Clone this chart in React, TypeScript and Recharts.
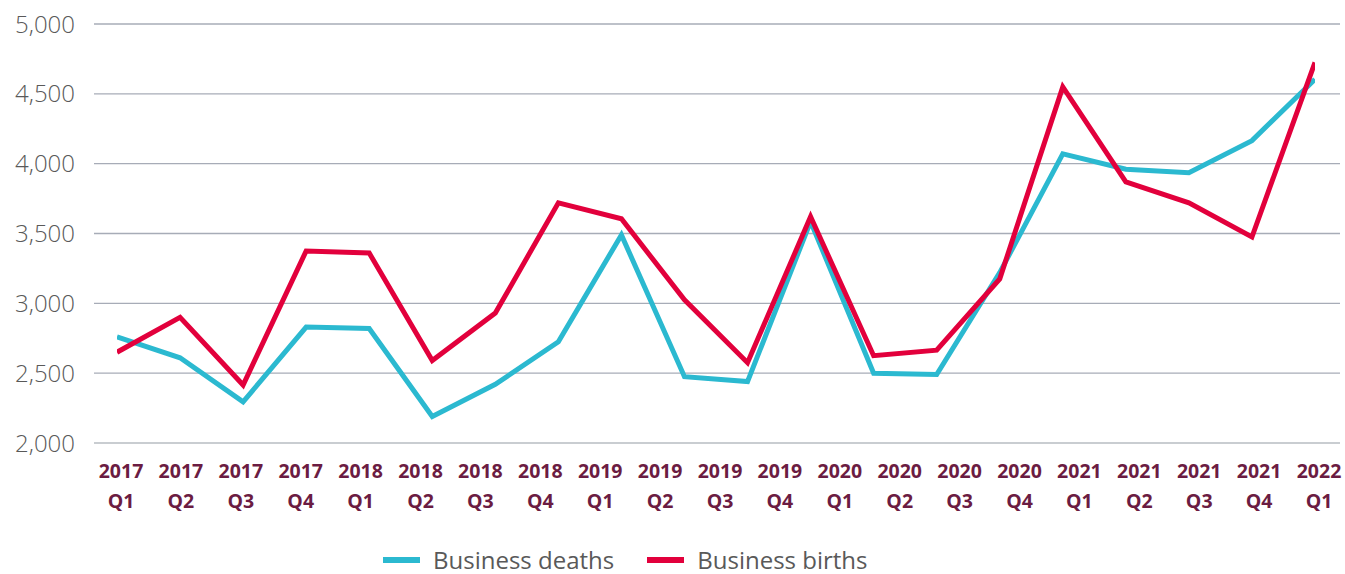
import { LineChart, Line, XAxis, YAxis, CartesianGrid, Legend } from "recharts";

const quarterLabels = [
  "2017 Q1", "2017 Q2", "2017 Q3", "2017 Q4",
  "2018 Q1", "2018 Q2", "2018 Q3", "2018 Q4",
  "2019 Q1", "2019 Q2", "2019 Q3", "2019 Q4",
  "2020 Q1", "2020 Q2", "2020 Q3", "2020 Q4",
  "2021 Q1", "2021 Q2", "2021 Q3", "2021 Q4",
  "2022 Q1",
];

// the source plots 20 points under 21 labels, so lines and labels sit on separate axes
const businessDeaths = [
  2760, 2610, 2295, 2830, 2820, 2190, 2420, 2725, 3490, 2475,
  2440, 3585, 2500, 2490, 3220, 4070, 3960, 3935, 4165, 4605,
];
const businessBirths = [
  2650, 2900, 2415, 3375, 3360, 2590, 2930, 3720, 3605, 3025,
  2575, 3620, 2625, 2665, 3175, 4550, 3870, 3720, 3475, 4725,
];

const yTicks = [2000, 2500, 3000, 3500, 4000, 4500, 5000];

const TEAL = "#2bb9d0";
const RED = "#e2003c";
const FONT = "'Open Sans', sans-serif";

const labelRows = quarterLabels.map((label) => ({ label }));
const deathRows = businessDeaths.map((v, i) => ({ idx: i, value: v }));
const birthRows = businessBirths.map((v, i) => ({ idx: i, value: v }));

function QuarterTick(props: any) {
  const { x, y, payload } = props;
  const [year, q] = String(payload.value).split(" ");
  return (
    <text
      x={x}
      y={y}
      textAnchor="middle"
      fill="#6b1c42"
      fontSize={19.5}
      fontWeight={700}
      fontFamily={FONT}
    >
      <tspan x={x} dy={27}>{year}</tspan>
      <tspan x={x} dy={30}>{q}</tspan>
    </text>
  );
}

function LegendContent() {
  const items = [
    { name: "Business deaths", color: TEAL },
    { name: "Business births", color: RED },
  ];
  return (
    <div
      style={{
        display: "flex",
        alignItems: "center",
        paddingLeft: 383,
        paddingTop: 14,
        fontFamily: FONT,
        fontSize: 24,
        lineHeight: "24px",
        whiteSpace: "nowrap",
        color: "#595959",
      }}
    >
      {items.map((it) => (
        <div key={it.name} style={{ display: "flex", alignItems: "center", marginRight: 33 }}>
          <svg width={37} height={6} style={{ marginRight: 13 }}>
            <rect width={37} height={6} fill={it.color} />
          </svg>
          <span>{it.name}</span>
        </div>
      ))}
    </div>
  );
}

export default function App() {
  return (
    <div style={{ position: "absolute", left: 0, top: 0, width: 1345, height: 574, background: "#fff" }}>
      <LineChart
        width={1345}
        height={574}
        data={labelRows}
        margin={{ top: 24, right: 5, bottom: 0, left: 0 }}
      >
        <CartesianGrid vertical={false} stroke="#a7acb7" strokeWidth={1.3} xAxisId="labels" />
        <XAxis
          xAxisId="line"
          dataKey="idx"
          type="number"
          domain={[0, 19]}
          allowDataOverflow
          padding={{ left: 23, right: 25 }}
          hide
        />
        <XAxis
          xAxisId="labels"
          dataKey="label"
          type="category"
          interval={0}
          padding={{ left: 27, right: 21 }}
          height={91}
          axisLine={{ stroke: "#c9cdd1", strokeWidth: 2 }}
          tickLine={false}
          tick={<QuarterTick />}
        />
        <YAxis
          domain={[2000, 5000]}
          ticks={yTicks}
          width={94}
          axisLine={false}
          tickLine={false}
          tickMargin={13}
          tickFormatter={(v: number) => v.toLocaleString("en-US")}
          tick={{ fill: "#595959", fontSize: 24, fontWeight: 300, fontFamily: FONT }}
        />
        <Legend verticalAlign="bottom" height={40} content={<LegendContent />} />
        <Line
          xAxisId="line"
          data={deathRows}
          type="linear"
          dataKey="value"
          name="Business deaths"
          stroke={TEAL}
          strokeWidth={5}
          dot={false}
          isAnimationActive={false}
        />
        <Line
          xAxisId="line"
          data={birthRows}
          type="linear"
          dataKey="value"
          name="Business births"
          stroke={RED}
          strokeWidth={5}
          dot={false}
          isAnimationActive={false}
        />
      </LineChart>
    </div>
  );
}
